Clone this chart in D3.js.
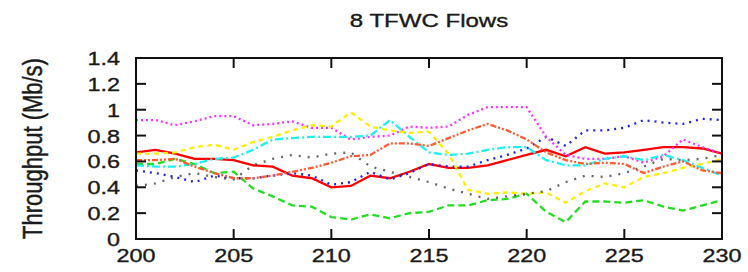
<!DOCTYPE html>
<html>
<head>
<meta charset="utf-8">
<script src="https://cdn.jsdelivr.net/npm/d3@7"></script>
<style>
    body { margin: 0; background: #fff; }
    svg text { font-family: "Liberation Sans", Arial, sans-serif; fill: #1a1a1a; stroke: #1a1a1a; stroke-width: 0.35px; }
</style>
</head>
<body>
<svg id="chart" width="748" height="272"></svg>
<script>

// time axis (s)
const times = d3.range(200, 231);

// throughput of each flow (Mb/s), one value per second
const flow1 = [0.67, 0.69, 0.66, 0.62, 0.62, 0.61, 0.57, 0.56, 0.49, 0.47, 0.40, 0.41, 0.49, 0.47, 0.52, 0.58,
    0.55, 0.55, 0.57, 0.61, 0.65, 0.69, 0.64, 0.71, 0.66, 0.67, 0.69, 0.71, 0.71, 0.70, 0.66];
const flow2 = [0.58, 0.58, 0.62, 0.58, 0.51, 0.52, 0.39, 0.33, 0.26, 0.25, 0.17, 0.15, 0.19, 0.16, 0.20, 0.21,
    0.26, 0.26, 0.30, 0.31, 0.35, 0.21, 0.13, 0.29, 0.29, 0.28, 0.30, 0.25, 0.22, 0.26, 0.30];
const flow3 = [0.53, 0.51, 0.48, 0.44, 0.49, 0.47, 0.47, 0.49, 0.51, 0.49, 0.42, 0.44, 0.52, 0.46, 0.51, 0.58,
    0.56, 0.56, 0.61, 0.65, 0.70, 0.79, 0.72, 0.84, 0.84, 0.86, 0.92, 0.90, 0.89, 0.93, 0.92];
const flow4 = [0.92, 0.92, 0.88, 0.91, 0.95, 0.95, 0.88, 0.89, 0.91, 0.86, 0.86, 0.77, 0.79, 0.80, 0.87, 0.86,
    0.87, 0.96, 1.02, 1.02, 1.02, 0.79, 0.65, 0.62, 0.62, 0.64, 0.59, 0.64, 0.77, 0.71, 0.66];
const flow5 = [0.57, 0.56, 0.56, 0.58, 0.62, 0.63, 0.69, 0.77, 0.78, 0.79, 0.79, 0.79, 0.80, 0.92, 0.79, 0.67,
    0.65, 0.66, 0.69, 0.71, 0.71, 0.61, 0.57, 0.57, 0.62, 0.64, 0.61, 0.65, 0.61, 0.55, 0.49];
const flow6 = [0.66, 0.66, 0.67, 0.71, 0.73, 0.69, 0.75, 0.79, 0.84, 0.88, 0.87, 0.98, 0.87, 0.84, 0.82, 0.83,
    0.66, 0.38, 0.35, 0.36, 0.35, 0.36, 0.28, 0.37, 0.43, 0.40, 0.48, 0.51, 0.55, 0.58, 0.62];
const flow7 = [0.41, 0.43, 0.48, 0.51, 0.48, 0.46, 0.57, 0.62, 0.65, 0.63, 0.66, 0.67, 0.56, 0.52, 0.48, 0.44,
    0.39, 0.35, 0.31, 0.33, 0.35, 0.37, 0.44, 0.49, 0.48, 0.51, 0.56, 0.62, 0.61, 0.62, 0.65];
const flow8 = [0.61, 0.61, 0.62, 0.56, 0.51, 0.47, 0.47, 0.49, 0.52, 0.55, 0.59, 0.64, 0.65, 0.74, 0.74, 0.72,
    0.78, 0.84, 0.89, 0.84, 0.77, 0.67, 0.61, 0.58, 0.59, 0.58, 0.51, 0.56, 0.60, 0.53, 0.51];

const flows = [flow1, flow2, flow3, flow4, flow5, flow6, flow7, flow8];

const xTicks = [200, 205, 210, 215, 220, 225, 230];
const yTicks = [0, 0.2, 0.4, 0.6, 0.8, 1, 1.2, 1.4];

// gnuplot style line types
const colors = ['#ff0000', '#22dd22', '#2020ff', '#ff30ff', '#20f0f0', '#ffee00', '#333333', '#ff5a30'];
const dashes = ['none', '7,4', '2,5', '2,3', '8,3,2,3', '5,4', '2,7', '6,2,2,2,2,2'];
const opac = [1, 1, 1, 1, 1, 1, 0.75, 1];

const margin = {left: 136, right: 26, top: 58, bottom: 33};
const width = 748, height = 272;

const svg = d3.select('#chart');

const x = d3.scaleLinear().domain([200, 230]).range([margin.left, width - margin.right]);
const y = d3.scaleLinear().domain([0, 1.4]).range([height - margin.bottom, margin.top]);

// the lines, clipped to the frame
svg.append('clipPath').attr('id', 'clip')
    .append('rect')
    .attr('x', x(200)).attr('y', y(1.4))
    .attr('width', x(230) - x(200)).attr('height', y(0) - y(1.4));

const line = d3.line()
    .x((d, i) => x(times[i]))
    .y((d) => y(d));

svg.append('g').attr('clip-path', 'url(#clip)')
    .selectAll('path')
    .data(flows)
    .enter()
    .append('path')
    .attr('d', line)
    .attr('fill', 'none')
    .attr('stroke', (d, i) => colors[i])
    .attr('stroke-width', 2.3)
    .attr('stroke-opacity', (d, i) => opac[i])
    .attr('stroke-dasharray', (d, i) => dashes[i]);

// inward ticks on all four sides (mirrored)
const tickLen = 10;
const axes = svg.append('g').attr('stroke', '#111').attr('stroke-width', 2);

axes.selectAll('.tb').data(xTicks.slice(1, -1)).enter().append('line')
    .attr('x1', (d) => x(d)).attr('x2', (d) => x(d))
    .attr('y1', y(0)).attr('y2', y(0) - tickLen);
axes.selectAll('.tt').data(xTicks.slice(1, -1)).enter().append('line')
    .attr('x1', (d) => x(d)).attr('x2', (d) => x(d))
    .attr('y1', y(1.4)).attr('y2', y(1.4) + tickLen);
axes.selectAll('.tl').data(yTicks.slice(1, -1)).enter().append('line')
    .attr('x1', x(200)).attr('x2', x(200) + tickLen)
    .attr('y1', (d) => y(d)).attr('y2', (d) => y(d));
axes.selectAll('.tr').data(yTicks.slice(1, -1)).enter().append('line')
    .attr('x1', x(230)).attr('x2', x(230) - tickLen)
    .attr('y1', (d) => y(d)).attr('y2', (d) => y(d));

// frame
svg.append('rect')
    .attr('x', x(200)).attr('y', y(1.4))
    .attr('width', x(230) - x(200)).attr('height', y(0) - y(1.4))
    .attr('fill', 'none').attr('stroke', '#111').attr('stroke-width', 2);

// tick labels (glyphs are a bit wide in the picture)
const stretch = 1.3;

svg.selectAll('.xl').data(xTicks).enter().append('text')
    .attr('transform', (d) => `translate(${x(d)},${height - 10}) scale(${stretch},1)`)
    .attr('text-anchor', 'middle')
    .style('font-size', '18px')
    .text((d) => d);

svg.selectAll('.yl').data(yTicks).enter().append('text')
    .attr('transform', (d) => `translate(120,${y(d) + 7}) scale(${stretch},1)`)
    .attr('text-anchor', 'end')
    .style('font-size', '18px')
    .text((d) => d3.format('~g')(d));

// title
svg.append('text')
    .attr('transform', `translate(${(x(200) + x(230)) / 2},27) scale(${stretch},1)`)
    .attr('text-anchor', 'middle')
    .style('font-size', '18.5px')
    .text('8 TFWC Flows');

// y label
svg.append('text')
    .attr('transform', `translate(42,${(y(0) + y(1.4)) / 2}) rotate(-90) scale(1,1.25)`)
    .attr('text-anchor', 'middle')
    .style('font-size', '22px')
    .text('Throughput (Mb/s)');

</script>
</body>
</html>
